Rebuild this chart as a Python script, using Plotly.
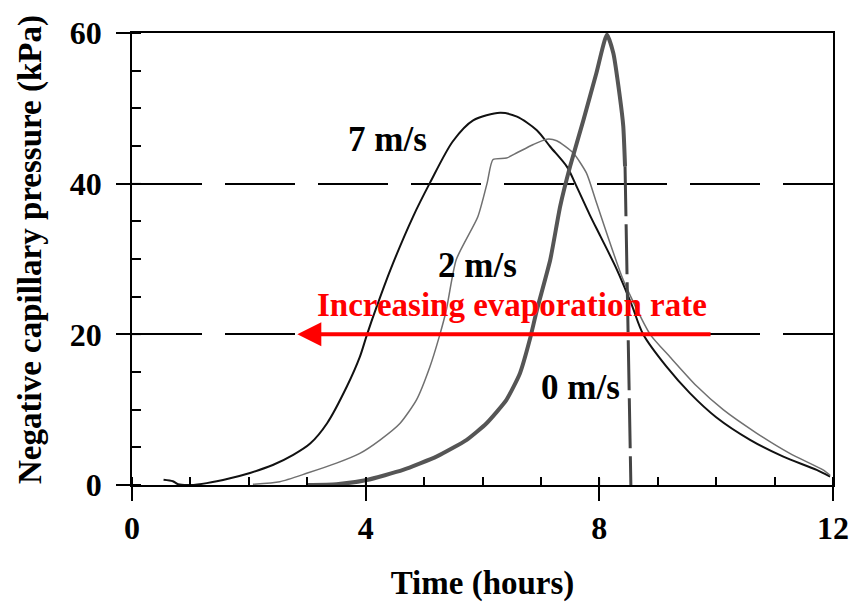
import plotly.graph_objects as go

# ---------------- data ----------------
t_7 = [0.54, 0.70, 0.79, 1.0, 1.28, 1.68, 2.02, 2.41, 2.76, 3.05, 3.34, 3.68, 3.90, 4.02, 4.19,
       4.42, 4.81, 5.10, 5.49, 5.84, 6.30, 6.59, 6.93, 7.16, 7.45, 7.60, 7.84, 8.02, 8.30, 8.55,
       8.75, 9.15, 9.55, 10.0, 10.58, 11.14, 11.72, 11.95]
p_7 = [0.7, 0.5, 0.1, 0.0, 0.25, 0.9, 1.6, 2.65, 4.0, 5.5, 8.2, 13.1, 17.0, 19.9, 23.7,
       28.5, 35.6, 40.1, 45.6, 48.4, 49.4, 48.9, 47.1, 44.9, 42.2, 39.8, 35.8, 33.0, 28.6, 24.0,
       20.0, 15.7, 12.2, 9.0, 6.0, 3.8, 2.0, 1.1]

t_2 = [2.07, 2.53, 2.99, 3.50, 3.90, 4.25, 4.59, 4.87, 5.10, 5.26, 5.38, 5.55, 5.92, 6.08, 6.18,
       6.41, 6.59, 6.87, 7.10, 7.27, 7.55, 7.78, 7.95, 8.41, 8.87, 9.21, 9.67, 10.12, 10.69, 11.26,
       11.83, 11.95]
p_2 = [0.1, 0.44, 1.55, 2.9, 4.2, 6.0, 8.2, 11.3, 15.7, 19.7, 23.2, 29.9, 35.6, 40.1, 43.2,
       43.4, 44.1, 45.2, 45.9, 45.7, 44.1, 41.4, 37.5, 27.2, 20.0, 17.0, 13.1, 10.0, 6.9, 4.2,
       2.0, 1.3]

t_0 = [2.99, 3.50, 4.02, 4.64, 5.22, 5.73, 6.07, 6.41, 6.64, 6.81, 6.93, 7.16, 7.33, 7.50, 7.73,
       7.95, 8.13, 8.24, 8.35, 8.41, 8.44]
p_0 = [0.0, 0.1, 0.66, 2.0, 3.8, 6.0, 8.2, 11.3, 14.8, 19.3, 23.2, 29.9, 37.0, 42.3, 48.5,
       54.7, 59.8, 57.3, 51.6, 47.6, 42.3]
t_0_drop = [8.44, 8.54]
p_0_drop = [42.3, 0.0]

x_major = [0, 4, 8, 12]
y_major = [0, 20, 40, 60]

labels = ["7 m/s", "2 m/s", "0 m/s"]
label_x = [4.38, 5.91, 7.67]
label_y = [45.8, 29.2, 12.9]
arrow_text = "Increasing evaporation rate"
arrow_text_pos = [6.50, 23.9]
arrow_from = [9.93, 20.0]
arrow_to = [2.83, 20.0]
y_title = "Negative capillary pressure (kPa)"
x_title = "Time (hours)"

FONT = "Liberation Serif, Times New Roman, serif"

fig = go.Figure()
fig.add_trace(go.Scatter(x=t_7, y=p_7, mode="lines", line=dict(color="#111111", width=2,
                         shape="spline", smoothing=0.8), hoverinfo="skip"))
fig.add_trace(go.Scatter(x=t_2, y=p_2, mode="lines", line=dict(color="#707070", width=1.5,
                         shape="spline", smoothing=0.6), hoverinfo="skip"))
fig.add_trace(go.Scatter(x=t_0, y=p_0, mode="lines", line=dict(color="#555555", width=4,
                         shape="spline", smoothing=0.5), hoverinfo="skip"))
fig.add_trace(go.Scatter(x=t_0_drop, y=p_0_drop, mode="lines",
                         line=dict(color="#444444", width=3, dash="50px,8px"), hoverinfo="skip"))

for txt, xx, yy in zip(labels, label_x, label_y):
    fig.add_annotation(x=xx, y=yy, text=txt, showarrow=False,
                       font=dict(family=FONT, size=35, color="black", weight="bold"))

fig.add_annotation(x=arrow_text_pos[0], y=arrow_text_pos[1], text=arrow_text, showarrow=False,
                   font=dict(family=FONT, size=33, color="red", weight="bold"))
fig.add_annotation(x=arrow_to[0], y=arrow_to[1], ax=arrow_from[0], ay=arrow_from[1],
                   xref="x", yref="y", axref="x", ayref="y", text="", showarrow=True,
                   arrowhead=2, arrowsize=1.2, arrowwidth=4, arrowcolor="red")

# axis title on the left as a rotated annotation (positioned like the original)
fig.add_annotation(text=y_title, textangle=-90, showarrow=False,
                   xref="paper", yref="paper", x=-102 / 701, y=(485 - 250) / 452,
                   xanchor="center", yanchor="middle",
                   font=dict(family=FONT, size=33, color="black", weight="bold"))

# inner half of the crossing major ticks
for v in x_major:
    fig.add_shape(type="line", x0=v, x1=v, y0=0, y1=7 / 452, xref="x", yref="paper",
                  line=dict(color="black", width=1.5))
for v in y_major:
    fig.add_shape(type="line", y0=v, y1=v, x0=0, x1=9 / 701, yref="y", xref="paper",
                  line=dict(color="black", width=1.5))

fig.update_layout(
    width=854, height=602,
    margin=dict(l=132, r=21, t=33, b=117),
    paper_bgcolor="white", plot_bgcolor="white",
    showlegend=False,
    font=dict(family=FONT, color="black"),
    xaxis=dict(range=[0, 12], tickvals=x_major, ticks="outside", ticklen=14, tickwidth=1.5,
               tickcolor="black", showline=True, linecolor="black", linewidth=1.5, mirror=True,
               showgrid=False, zeroline=False, automargin=False,
               tickfont=dict(family=FONT, size=32, color="black", weight="bold"),
               minor=dict(dtick=1, ticks="inside", ticklen=8, tickwidth=1.5, tickcolor="black",
                          showgrid=False),
               title=dict(text=x_title, standoff=42,
                          font=dict(family=FONT, size=33, color="black", weight="bold"))),
    yaxis=dict(range=[0, 60], tickvals=y_major, ticks="outside", ticklen=14, tickwidth=1.5,
               tickcolor="black", showline=True, linecolor="black", linewidth=1.5, mirror=True,
               showgrid=True, gridcolor="black", gridwidth=1.5, griddash="70px,23px",
               zeroline=False, ticklabelstandoff=8, automargin=False,
               tickfont=dict(family=FONT, size=32, color="black", weight="bold"),
               minor=dict(dtick=5, ticks="inside", ticklen=9, tickwidth=1.5, tickcolor="black",
                          showgrid=False)),
)

fig.write_html("out.html")
